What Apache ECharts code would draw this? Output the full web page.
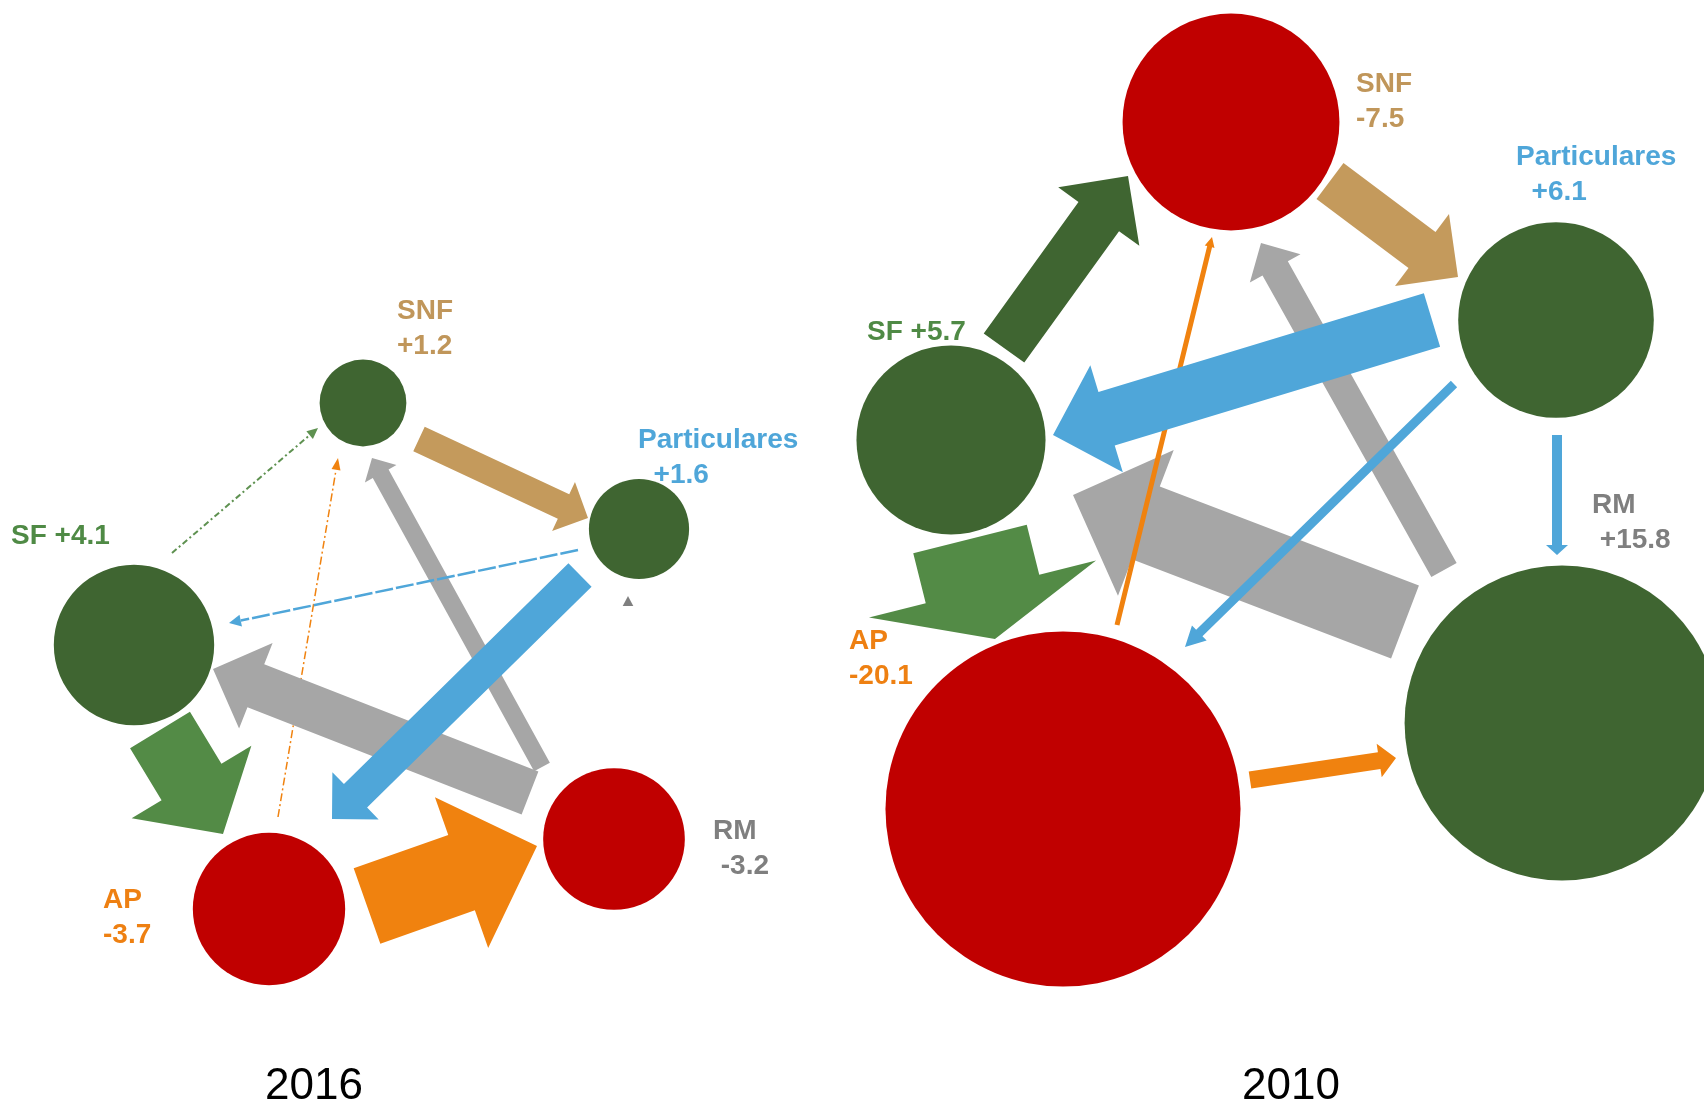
<!DOCTYPE html>
<html>
<head>
<meta charset="utf-8">
<title>Flujos 2016 / 2010</title>
<script src="https://cdn.jsdelivr.net/npm/echarts@6/dist/echarts.min.js"></script>
<style>
html,body{margin:0;padding:0;background:#ffffff;}
#chart{width:1704px;height:1104px;}
</style>
</head>
<body>
<div id="chart"></div>
<script>
// ================= DATA =================
const years = ['2016', '2010'];
const nodeNames = ['SNF', 'Particulares', 'SF', 'AP', 'RM'];
// net balance of each sector (label values; circle area is proportional to |value|)
const balance2016 = [1.2, 1.6, 4.1, -3.7, -3.2];
const balance2010 = [-7.5, 6.1, 5.7, -20.1, 15.8];
// flows between sectors (estimated magnitudes, read from arrow thickness)
const flowFrom2016  = ['AP', 'SF', 'RM', 'RM', 'Particulares', 'Particulares', 'SNF', 'SF', 'AP', 'RM'];
const flowTo2016    = ['SNF', 'SNF', 'SF', 'SNF', 'SF', 'AP', 'Particulares', 'AP', 'RM', 'Particulares'];
const flowValue2016 = [0.15, 0.2, 4.6, 1.8, 0.25, 3.3, 2.7, 7.0, 8.0, 0];
const flowFrom2010  = ['RM', 'RM', 'AP', 'Particulares', 'Particulares', 'SNF', 'SF', 'SF', 'Particulares', 'AP'];
const flowTo2010    = ['SF', 'SNF', 'SNF', 'AP', 'SF', 'Particulares', 'SNF', 'AP', 'RM', 'RM'];
const flowValue2010 = [7.8, 2.9, 0.5, 0.9, 5.6, 4.5, 5.0, 11.7, 1.0, 1.7];

// ================= LAYOUT / STYLE =================
const FONT = '"Liberation Sans", Arial, Helvetica, sans-serif';
const NODE_K = 39.6;   // radius (chart units) per sqrt(|balance|)
const FLOW_K = 10;     // shaft width (chart units) per unit of flow
const POS_COLOR = '#3F6531';
const NEG_COLOR = '#C00000';
const flowColor  = {SNF: '#C49A5C', Particulares: '#4FA6D9', SF: '#538B46', AP: '#F0820F', RM: '#A6A6A6'};
const labelColor = {SNF: '#C0965A', Particulares: '#4FA6D9', SF: '#4F8A45', AP: '#EE8012', RM: '#7F7F7F'};

const layout = {
  '2016': {
    nodes: {SNF: [363, 403], Particulares: [639, 529], SF: [134, 645], AP: [269, 909], RM: [614, 839]},
    labels: {SNF: [397, 329, 'stack', 0], Particulares: [638, 458, 'stack', 2], SF: [11, 536, 'inline', 0],
             AP: [103, 918, 'stack', 0], RM: [713, 849, 'stack', 1]},
    title: [314, 1087],
    flows: [
      {p: [278, 817, 338, 458], dash: [8, 3, 2, 3], hw: 9, hl: 12},
      {p: [172, 553, 318, 428], dash: [6, 3, 2, 3], hw: 10, hl: 11, color: '#5E9150'},
      {p: [530, 793, 213, 669]},
      {p: [542, 767, 372, 458]},
      {p: [578, 550, 229, 623], dash: [18, 3], hw: 12, hl: 12},
      {p: [580, 575, 332, 819]},
      {p: [419, 439, 588, 518]},
      {p: [160, 730, 223, 834]},
      {p: [367, 906, 537, 846]},
      {p: [628, 606, 628, 596], hw: 10.6, hl: 10, color: '#7F7F7F'}
    ]
  },
  '2010': {
    nodes: {SNF: [1231, 122], Particulares: [1556, 320], SF: [951, 440], AP: [1063, 809], RM: [1562, 723]},
    labels: {SNF: [1356, 102, 'stack', 0], Particulares: [1516, 175, 'stack', 2], SF: [867, 332, 'inline', 0],
             AP: [849, 659, 'stack', 0], RM: [1592, 523, 'stack', 1]},
    title: [1291, 1087],
    flows: [
      {p: [1405, 622, 1073, 495]},
      {p: [1444, 570, 1261, 243]},
      {p: [1117, 625, 1212, 237], hw: 10, hl: 10},
      {p: [1454, 384, 1185, 647], hl: 20},
      {p: [1432, 320, 1053, 435]},
      {p: [1330, 181, 1458, 277]},
      {p: [1004, 348, 1128, 176], color: POS_COLOR},
      {p: [970, 539, 995, 639]},
      {p: [1557, 435, 1557, 555]},
      {p: [1250, 780, 1396, 758]}
    ]
  }
};

// ================= BUILD =================
const balances = {'2016': balance2016, '2010': balance2010};
const flowSets = {
  '2016': {from: flowFrom2016, to: flowTo2016, value: flowValue2016},
  '2010': {from: flowFrom2010, to: flowTo2010, value: flowValue2010}
};
function fmt(v) { return (v > 0 ? '+' : '') + v.toFixed(1); }

const nodeItems = [], flowItems = [], textItems = [];
years.forEach(function (yr) {
  const L = layout[yr];
  nodeNames.forEach(function (n, i) {
    const v = balances[yr][i];
    nodeItems.push({pos: L.nodes[n], value: v});
    const lab = L.labels[n];
    const text = lab[2] === 'inline' ? (n + ' ' + fmt(v)) : (n + '\n' + ' '.repeat(lab[3]) + fmt(v));
    textItems.push({pos: [lab[0], lab[1]], text: text, color: labelColor[n], size: 28, weight: 'bold', align: 'left', lh: 35});
  });
  const fs = flowSets[yr];
  fs.from.forEach(function (src, i) {
    const lay = L.flows[i];
    flowItems.push({p: lay.p, dash: lay.dash, hw: lay.hw, hl: lay.hl,
      color: lay.color || flowColor[src], from: src, to: fs.to[i], value: fs.value[i]});
  });
  textItems.push({pos: L.title, text: yr, color: '#000000', size: 44, weight: 'normal', align: 'center', lh: 44});
});

const chart = echarts.init(document.getElementById('chart'), null, {renderer: 'canvas'});

const option = {
  animation: false,
  backgroundColor: '#ffffff',
  grid: {left: 0, right: 0, top: 0, bottom: 0, containLabel: false},
  xAxis: {type: 'value', min: 0, max: 1704, show: false},
  yAxis: {type: 'value', min: 0, max: 1104, inverse: true, show: false},
  series: [
    {
      type: 'custom', name: 'sectores', coordinateSystem: 'cartesian2d', clip: false, silent: true,
      encode: {x: 0, y: 1},
      data: nodeItems.map(function (d) { return [d.pos[0], d.pos[1], d.value]; }),
      renderItem: function (params, api) {
        const c = api.coord([api.value(0), api.value(1)]);
        const v = api.value(2);
        const r = api.size([NODE_K * Math.sqrt(Math.abs(v)), 0])[0];
        return {type: 'circle', shape: {cx: c[0], cy: c[1], r: r}, style: {fill: v >= 0 ? POS_COLOR : NEG_COLOR}};
      }
    },
    {
      type: 'custom', name: 'flujos', coordinateSystem: 'cartesian2d', clip: false, silent: true,
      encode: {x: [0, 2], y: [1, 3]},
      data: flowItems.map(function (f) { return [f.p[0], f.p[1], f.p[2], f.p[3], f.value]; }),
      renderItem: function (params, api) {
        const f = flowItems[params.dataIndex];
        const a = api.coord([api.value(0), api.value(1)]);
        const b = api.coord([api.value(2), api.value(3)]);
        const s = api.size([1, 0])[0];
        const w = api.value(4) * FLOW_K * s;
        const dx = b[0] - a[0], dy = b[1] - a[1];
        const len = Math.sqrt(dx * dx + dy * dy);
        const ux = dx / len, uy = dy / len, nx = -uy, ny = ux;
        const hw = f.hw != null ? f.hw * s : Math.max(2 * w, w + 12 * s);
        const hl = f.hl != null ? f.hl * s : Math.min(Math.max(w, 10 * s), len / 2);
        const bx = b[0] - ux * hl, by = b[1] - uy * hl;
        const head = [[bx + nx * hw / 2, by + ny * hw / 2], [b[0], b[1]], [bx - nx * hw / 2, by - ny * hw / 2]];
        if (f.dash) {
          return {type: 'group', children: [
            {type: 'line', shape: {x1: a[0], y1: a[1], x2: bx, y2: by},
             style: {stroke: f.color, lineWidth: w, lineDash: f.dash, fill: null}},
            {type: 'polygon', shape: {points: head}, style: {fill: f.color}}
          ]};
        }
        const pts = [
          [a[0] + nx * w / 2, a[1] + ny * w / 2],
          [bx + nx * w / 2, by + ny * w / 2],
          head[0], head[1], head[2],
          [bx - nx * w / 2, by - ny * w / 2],
          [a[0] - nx * w / 2, a[1] - ny * w / 2]
        ];
        return {type: 'polygon', shape: {points: pts}, style: {fill: f.color}};
      }
    },
    {
      type: 'custom', name: 'etiquetas', coordinateSystem: 'cartesian2d', clip: false, silent: true,
      encode: {x: 0, y: 1},
      data: textItems.map(function (t) { return [t.pos[0], t.pos[1]]; }),
      renderItem: function (params, api) {
        const t = textItems[params.dataIndex];
        const c = api.coord([api.value(0), api.value(1)]);
        return {type: 'text', x: c[0], y: c[1], style: {
          text: t.text, fill: t.color, fontSize: t.size, fontWeight: t.weight, fontFamily: FONT,
          align: t.align, verticalAlign: 'middle', lineHeight: t.lh}};
      }
    }
  ]
};
chart.setOption(option);
</script>
</body>
</html>
